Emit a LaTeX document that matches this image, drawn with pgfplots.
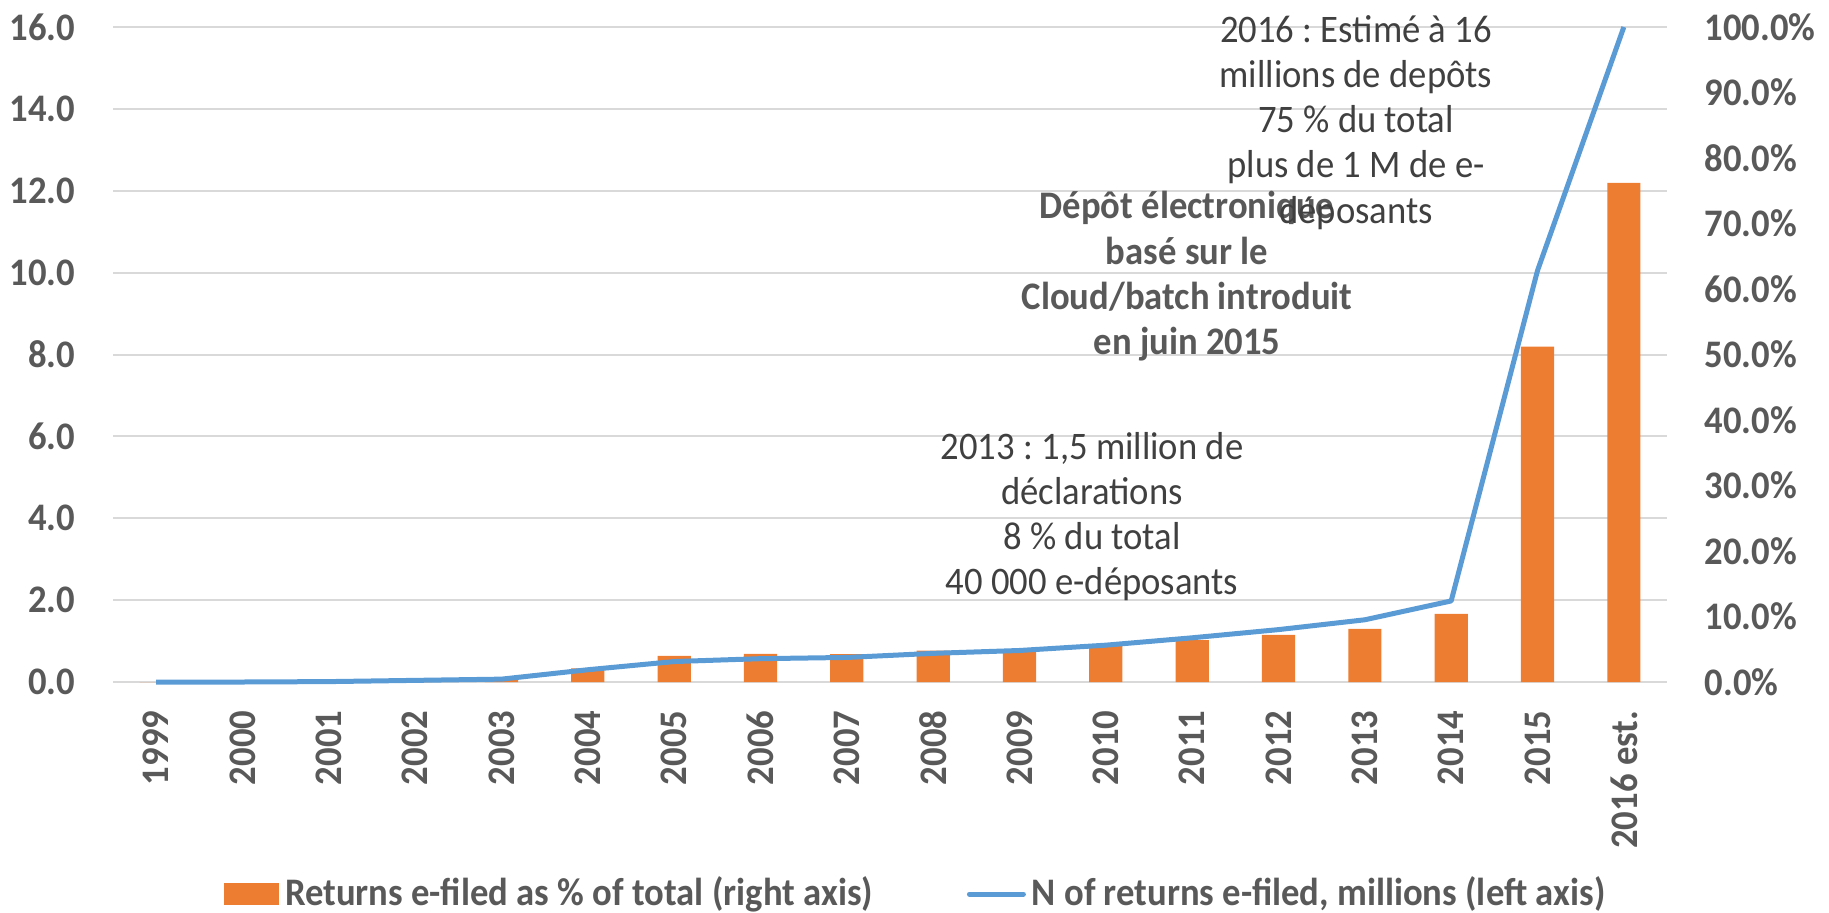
\documentclass[border=0pt]{standalone}
\usepackage{pgfplots}
\pgfplotsset{compat=1.18}
\usepackage{pgfplotstable}
\usepackage{fontspec}
\setmainfont{Carlito}[FakeStretch=0.94]
\frenchspacing
\definecolor{barorange}{HTML}{ED7D31}
\definecolor{lineblue}{HTML}{5B9BD5}
\definecolor{tickgray}{HTML}{595959}
\definecolor{anngray}{HTML}{404040}
\definecolor{gridgray}{HTML}{D9D9D9}
\newcommand{\fs}{\fontsize{9.75pt}{11.3pt}\selectfont\frenchspacing}

\pgfplotstableread{
x pct
0 0
1 0
2 0
3 0.2
4 0.5
5 2.1
6 4.0
7 4.3
8 4.25
9 4.8
10 4.7
11 5.5
12 6.4
13 7.2
14 8.1
15 10.4
16 51.2
17 76.2
}\bardata

\pgfplotstableread{
x n
0 0
1 0
2 0.01
3 0.04
4 0.07
5 0.3
6 0.5
7 0.57
8 0.6
9 0.7
10 0.77
11 0.9
12 1.08
13 1.28
14 1.52
15 1.98
16 10.05
17 16.0
}\linedata

\begin{document}
\begin{tikzpicture}
\path[use as bounding box] (0,0) rectangle (457.25pt,228pt);
\begin{axis}[
  at={(28.25pt,57.5pt)}, anchor=south west,
  scale only axis, width=388.5pt, height=163.75pt,
  xmin=-0.5, xmax=17.5, ymin=0, ymax=100,
  axis y line*=right, axis x line*=bottom,
  axis line style={draw=none},
  tick style={draw=none},
  major tick length=0pt,
  xtick={0,...,17},
  xticklabels={1999,2000,2001,2002,2003,2004,2005,2006,2007,2008,2009,2010,2011,2012,2013,2014,2015,2016 est.},
  xticklabel style={rotate=90, anchor=east, inner sep=0pt, font=\fs\bfseries, text=tickgray},
  xticklabel shift=7pt,
  ytick={0,10,...,100},
  yticklabels={0.0\%,10.0\%,20.0\%,30.0\%,40.0\%,50.0\%,60.0\%,70.0\%,80.0\%,90.0\%,100.0\%},
  yticklabel style={anchor=west, inner sep=0pt, font=\fs\bfseries, text=tickgray},
  yticklabel shift=9.25pt,
  extra y ticks={0,12.5,25,37.5,50,62.5,75,87.5,100},
  extra y tick labels={},
  extra y tick style={grid=major},
  major grid style={gridgray, line width=0.5pt},
  ybar, bar width=8.3pt,
  clip=false,
]
\addplot[fill=barorange, draw=none] table[x=x, y=pct] {\bardata};
\end{axis}
\begin{axis}[
  at={(28.25pt,57.5pt)}, anchor=south west,
  scale only axis, width=388.5pt, height=163.75pt,
  xmin=-0.5, xmax=17.5, ymin=0, ymax=16,
  axis y line*=left, axis x line=none,
  axis line style={draw=none},
  tick style={draw=none},
  major tick length=0pt,
  xtick=\empty,
  ytick={0,2,...,16},
  /pgf/number format/assume math mode=true,
  yticklabel={\pgfmathprintnumber[fixed,fixed zerofill,precision=1]{\tick}},
  yticklabel style={anchor=east, inner sep=0pt, font=\fs\bfseries, text=tickgray},
  yticklabel shift=9.25pt,
  clip=false,
  legend columns=2,
  legend style={at={(0.5177,-0.3237)}, anchor=center, draw=none, fill=none,
    font=\fs\bfseries, text=tickgray, inner sep=0pt,
    nodes={inner xsep=1.5pt, inner ysep=0pt},
    /tikz/every even column/.append style={column sep=22pt}},
]
\addlegendimage{legend image code/.code={\fill[barorange] (-0.5pt,-2.5pt) rectangle (13pt,2.5pt);}}
\addlegendentry{Returns e-filed as \% of total (right axis)}
\addplot[lineblue, line width=1.25pt, line join=round, mark=none,
  legend image code/.code={\draw[lineblue, line width=1.25pt, line cap=round] (0pt,0pt) -- (13.5pt,0pt);}]
  table[x=x, y=n] {\linedata};
\addlegendentry{N of returns e-filed, millions (left axis)}
\end{axis}
\node[align=center, font=\fs, text=anngray] at (273pt,98.9pt)
  {2013 : 1,5 million de\\déclarations\\8 \% du total\\40 000 e-déposants};
\node[align=center, font=\fs\bfseries, text=tickgray] at (296.75pt,158.9pt)
  {Dépôt électronique\\basé sur le\\Cloud/batch introduit\\en juin 2015};
\node[align=center, font=\fs, text=anngray] at (339pt,197.4pt)
  {2016 : Estimé à 16\\millions de depôts\\75 \% du total\\plus de 1 M de e-\\déposants};
\end{tikzpicture}
\end{document}
